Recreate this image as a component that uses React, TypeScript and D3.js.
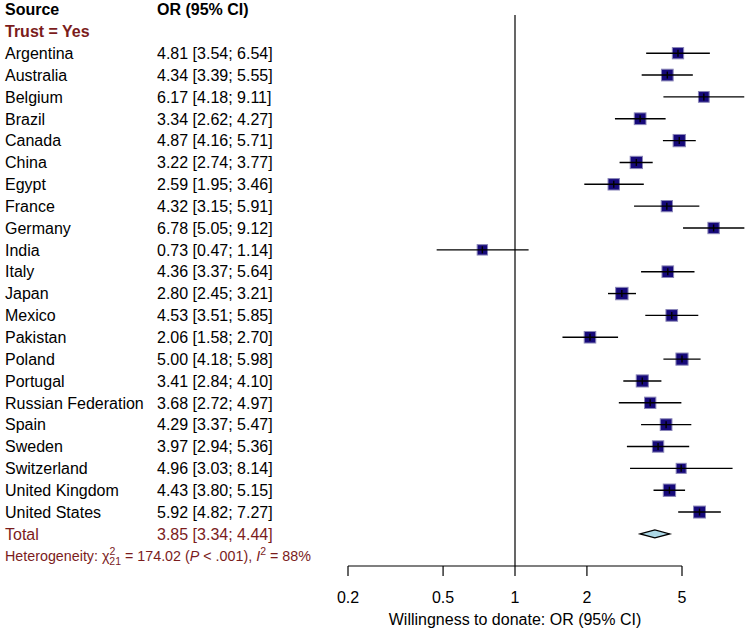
import React from "react";
import * as d3 from "d3";

const countries = [
  "Argentina", "Australia", "Belgium", "Brazil", "Canada", "China", "Egypt", "France",
  "Germany", "India", "Italy", "Japan", "Mexico", "Pakistan", "Poland", "Portugal",
  "Russian Federation", "Spain", "Sweden", "Switzerland", "United Kingdom", "United States",
];
const orValues = [4.81, 4.34, 6.17, 3.34, 4.87, 3.22, 2.59, 4.32, 6.78, 0.73, 4.36, 2.80, 4.53, 2.06, 5.00, 3.41, 3.68, 4.29, 3.97, 4.96, 4.43, 5.92];
const lowerCI = [3.54, 3.39, 4.18, 2.62, 4.16, 2.74, 1.95, 3.15, 5.05, 0.47, 3.37, 2.45, 3.51, 1.58, 4.18, 2.84, 2.72, 3.37, 2.94, 3.03, 3.80, 4.82];
const upperCI = [6.54, 5.55, 9.11, 4.27, 5.71, 3.77, 3.46, 5.91, 9.12, 1.14, 5.64, 3.21, 5.85, 2.70, 5.98, 4.10, 4.97, 5.47, 5.36, 8.14, 5.15, 7.27];
const totalOR = 3.85;
const totalLower = 3.34;
const totalUpper = 4.44;
const tickValues = [0.2, 0.5, 1, 2, 5];
const tickLabels = ["0.2", "0.5", "1", "2", "5"];

const FONT = "'Liberation Sans', Arial, Helvetica, sans-serif";
const RED = "#7b1c1c";

export default function App() {
  const x = d3.scaleLog().domain([0.2, 5]).range([348, 682]);
  const rowY = (i: number) => 9.5 + i * 21.85;
  const sizeScale = d3.scaleLinear().domain([0.25, 1.0]).range([12.5, 10]).clamp(true);
  const fmt = d3.format(".2f");
  const axisY = 566;

  const diamondPath = (() => {
    const y = rowY(24);
    const h = 4;
    return `M${x(totalLower)},${y} L${x(totalOR)},${y - h} L${x(totalUpper)},${y} L${x(totalOR)},${y + h} Z`;
  })();

  return (
    <svg width={751} height={631} style={{ position: "absolute", left: 0, top: 0, background: "#fff" }} fontFamily={FONT}>
      {/* headers */}
      <text x={5} y={rowY(0)} dy="0.36em" fontSize={16} fontWeight="bold" fill="#000">Source</text>
      <text x={157} y={rowY(0)} dy="0.36em" fontSize={16} fontWeight="bold" fill="#000">OR (95% CI)</text>
      <text x={5} y={rowY(1)} dy="0.36em" fontSize={16} fontWeight="bold" fill={RED}>Trust = Yes</text>

      {/* reference line */}
      <line x1={x(1)} x2={x(1)} y1={15} y2={axisY} stroke="#000" strokeWidth={1.2} />

      {countries.map((c, i) => {
        const y = rowY(i + 2);
        const s = sizeScale(Math.log(upperCI[i] / lowerCI[i]));
        const cx = x(orValues[i]);
        return (
          <g key={c}>
            <text x={5} y={y} dy="0.36em" fontSize={16} fill="#000">{c}</text>
            <text x={157} y={y} dy="0.36em" fontSize={16} fill="#000">
              {`${fmt(orValues[i])} [${fmt(lowerCI[i])}; ${fmt(upperCI[i])}]`}
            </text>
            <rect x={cx - s / 2} y={y - s / 2} width={s} height={s} fill="#16097a" stroke="#8a86b8" strokeWidth={1} />
            <line x1={x(lowerCI[i])} x2={Math.min(x(upperCI[i]), 751)} y1={y} y2={y} stroke="#000" strokeWidth={1.4} />
            <line x1={cx} x2={cx} y1={y - 3.5} y2={y + 3.5} stroke="#000" strokeWidth={1.4} />
          </g>
        );
      })}

      {/* Total */}
      <text x={5} y={rowY(24)} dy="0.36em" fontSize={16} fill={RED}>Total</text>
      <text x={157} y={rowY(24)} dy="0.36em" fontSize={16} fill={RED}>
        {`${fmt(totalOR)} [${fmt(totalLower)}; ${fmt(totalUpper)}]`}
      </text>
      <path d={diamondPath} fill="#add8e6" stroke="#000" strokeWidth={1.3} />

      {/* Heterogeneity */}
      <text x={5} y={rowY(25)} dy="0.36em" fontSize={14.3} fill={RED}>
        <tspan>Heterogeneity: χ</tspan>
        <tspan fontSize={10.5} dy="-5.5">2</tspan>
        <tspan fontSize={10.5} dx="-6" dy="10">21</tspan>
        <tspan dy="-4.5">{" = 174.02 ("}</tspan>
        <tspan fontStyle="italic">P</tspan>
        <tspan>{" < .001), "}</tspan>
        <tspan fontStyle="italic">I</tspan>
        <tspan fontSize={10.5} dy="-5.5">2</tspan>
        <tspan dy="5.5">{" = 88%"}</tspan>
      </text>

      {/* axis */}
      <line x1={x(0.2)} x2={x(5)} y1={axisY} y2={axisY} stroke="#000" strokeWidth={1.2} />
      {tickValues.map((t, i) => (
        <g key={t}>
          <line x1={x(t)} x2={x(t)} y1={axisY} y2={axisY + 10} stroke="#000" strokeWidth={1.2} />
          <text x={x(t)} y={axisY + 31} dy="0.36em" textAnchor="middle" fontSize={16} fill="#000">{tickLabels[i]}</text>
        </g>
      ))}
      <text x={x(1)} y={619} dy="0.36em" textAnchor="middle" fontSize={16} fill="#000">Willingness to donate: OR (95% CI)</text>
    </svg>
  );
}
